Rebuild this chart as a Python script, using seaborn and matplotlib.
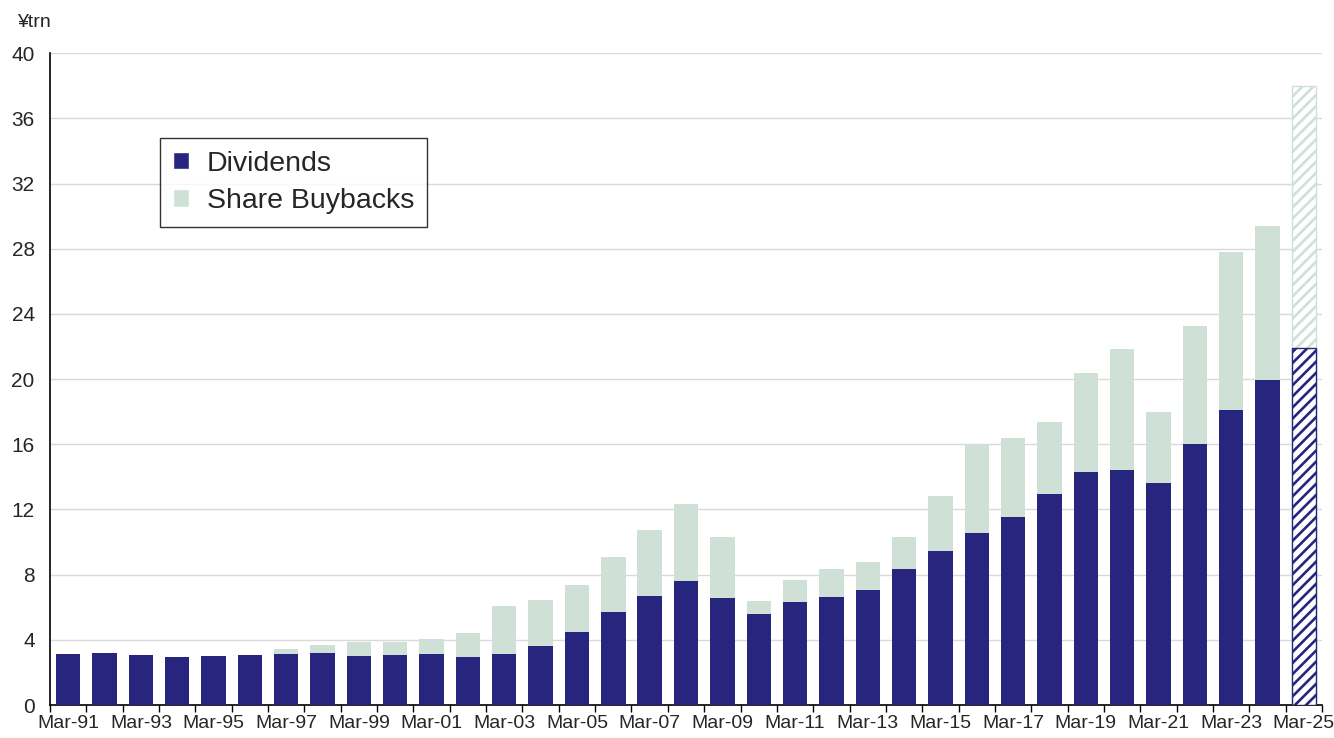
import matplotlib
matplotlib.use('Agg')
import matplotlib.pyplot as plt
from matplotlib.patches import Patch
import seaborn as sns
import pandas as pd
import numpy as np

years = ['Mar-%02d' % (y % 100) for y in range(1991, 2026)]
dividends = [3.13, 3.17, 3.09, 2.94, 3.03, 3.05, 3.15, 3.19, 2.99, 3.05,
             3.10, 2.95, 3.12, 3.64, 4.50, 5.69, 6.67, 7.59, 6.54, 5.56,
             6.30, 6.65, 7.03, 8.32, 9.42, 10.53, 11.51, 12.92, 14.31, 14.40,
             13.62, 16.01, 18.12, 19.94, 21.88]
buybacks = [0, 0, 0, 0, 0, 0, 0.30, 0.47, 0.85, 0.79,
            0.98, 1.49, 2.98, 2.80, 2.86, 3.37, 4.05, 4.72, 3.77, 0.82,
            1.37, 1.69, 1.76, 1.99, 3.42, 5.42, 4.85, 4.42, 6.08, 7.42,
            4.37, 7.24, 9.70, 9.45, 16.10]

navy = '#28257f'
light = '#cfe0d6'

df = pd.DataFrame({'year': years, 'div': dividends, 'buy': buybacks})
df['total'] = df['div'] + df['buy']

sns.set_style('white')
plt.rcParams['font.family'] = ['Liberation Sans', 'DejaVu Sans']
plt.rcParams['hatch.linewidth'] = 1.9

fig = plt.figure(figsize=(13.34, 7.38), dpi=100)
ax = fig.add_axes([0.0375, 0.0447, 0.9535, 0.8833])

sns.barplot(data=df, x='year', y='total', color=light, width=0.67,
            saturation=1, linewidth=0, ax=ax, zorder=2)
sns.barplot(data=df, x='year', y='div', color=navy, width=0.67,
            saturation=1, linewidth=0, ax=ax, zorder=3)

# last year is a forecast -> hatched bars
n = len(years)
bars = ax.patches
for p, col in [(bars[n - 1], light), (bars[2 * n - 1], navy)]:
    p.set_facecolor('white')
    p.set_edgecolor(col)
    p.set_hatch('///')
    p.set_linewidth(1.0)

ax.set_ylim(0, 40)
ax.set_xlim(-0.5, n - 0.5)
ax.set_yticks(np.arange(0, 41, 4))
ax.yaxis.grid(True, color='#d9d9d9', linewidth=1, zorder=0)
ax.set_axisbelow(True)

ax.set_xticks(range(0, n, 2))
ax.set_xticklabels(years[::2])
ax.set_xticks(np.arange(-0.5, n, 1), minor=True)
ax.tick_params(axis='x', which='major', length=0, labelsize=14, pad=7)
ax.tick_params(axis='x', which='minor', length=5, width=1, direction='out',
               color='black', bottom=True)
ax.tick_params(axis='y', length=0, labelsize=15, pad=11)
ax.set_xlabel('')
ax.set_ylabel('')

for s in ['top', 'right']:
    ax.spines[s].set_visible(False)
for s in ['left', 'bottom']:
    ax.spines[s].set_color('black')
    ax.spines[s].set_linewidth(1.2)

handles = [Patch(facecolor=navy, label='Dividends'),
           Patch(facecolor=light, label='Share Buybacks')]
leg = ax.legend(handles=handles, loc='upper left',
                bbox_to_anchor=(0.0865, 0.87), fontsize=20.5,
                frameon=True, fancybox=False, handlelength=0.55,
                handleheight=0.55, handletextpad=0.65, borderpad=0.45,
                labelspacing=0.4, borderaxespad=0)
leg.get_frame().set_edgecolor('black')
leg.get_frame().set_linewidth(1.0)

fig.text(0.0135, 0.97, '¥trn', fontsize=14, va='center', ha='left')

fig.savefig('out.png', dpi=100)
